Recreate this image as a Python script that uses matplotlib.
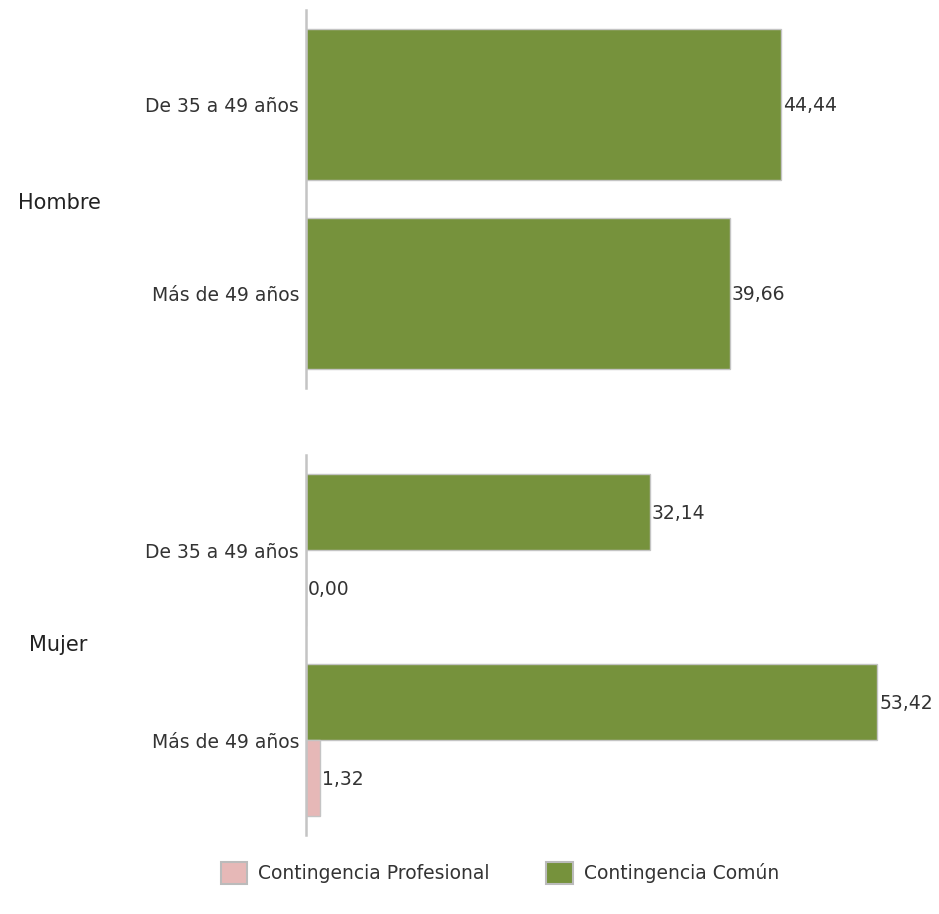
import matplotlib
matplotlib.use("Agg")
import matplotlib.pyplot as plt
from matplotlib.patches import Patch

# data
groups = ["Hombre", "Mujer"]
ages = ["De 35 a 49 años", "Más de 49 años"]
comun_hombre = [44.44, 39.66]
comun_mujer = [32.14, 53.42]
profesional_mujer = [0.00, 1.32]

series_names = ["Contingencia Profesional", "Contingencia Común"]
c_prof = "#e6b8b7"
c_comun = "#76923c"
edge = "#c4c4c4"
text_c = "#333333"

W, H = 939, 914
fig = plt.figure(figsize=(W / 100, H / 100), dpi=100)
plt.rcParams["font.family"] = ["DejaVu Sans"]

x_scale = 10.69  # px per unit
x_max = 60
ax_w = x_max * x_scale
left = 306


def make_ax(top_px, bottom_px):
    ax = fig.add_axes([left / W, 1 - bottom_px / H, ax_w / W, (bottom_px - top_px) / H])
    ax.set_xlim(0, x_max)
    ax.set_ylim(1.5, -0.5)
    for s in ["top", "right", "bottom"]:
        ax.spines[s].set_visible(False)
    ax.spines["left"].set_color(edge)
    ax.spines["left"].set_linewidth(1.8)
    ax.set_xticks([])
    ax.set_yticks(range(len(ages)))
    ax.set_yticklabels(ages, fontsize=13.5, color=text_c)
    ax.tick_params(axis="y", length=0, pad=5)
    ax.patch.set_alpha(0)
    return ax


def fmt(v):
    return f"{v:.2f}".replace(".", ",")


def label_bars(ax, bars, values):
    for b, v in zip(bars, values):
        ax.annotate(fmt(v), (v, b.get_y() + b.get_height() / 2), xytext=(1.5, -1),
                    textcoords="offset points", ha="left", va="center",
                    fontsize=13.5, color=text_c, annotation_clip=False)


# Hombre: only Contingencia Común
ax1 = make_ax(10, 388)
b = ax1.barh(range(len(ages)), comun_hombre, height=0.8, color=c_comun,
             edgecolor=edge, linewidth=1)
label_bars(ax1, b, comun_hombre)

# Mujer: both series
ax2 = make_ax(455, 835)
pos = list(range(len(ages)))
b_c = ax2.barh([p - 0.2 for p in pos], comun_mujer, height=0.4, color=c_comun,
               edgecolor=edge, linewidth=1)
b_p = ax2.barh([p + 0.2 for p in pos], profesional_mujer, height=0.4, color=c_prof,
               edgecolor=edge, linewidth=1)
label_bars(ax2, b_c, comun_mujer)
label_bars(ax2, b_p, profesional_mujer)

# group labels
fig.text(59 / W, 1 - 203 / H, groups[0], ha="center", va="center", fontsize=15, color="#222222")
fig.text(58 / W, 1 - 645 / H, groups[1], ha="center", va="center", fontsize=15, color="#222222")

handles = [Patch(facecolor=c_prof, edgecolor="#bbbbbb", linewidth=1.5),
           Patch(facecolor=c_comun, edgecolor="#bbbbbb", linewidth=1.5)]
fig.legend(handles, series_names, loc="center", bbox_to_anchor=(500 / W, 1 - 873 / H),
           ncol=2, frameon=False, fontsize=13.5, handlelength=1.4, handleheight=1.4,
           handletextpad=0.6, columnspacing=3.0, labelcolor=text_c)

fig.savefig("out.png", dpi=100)
